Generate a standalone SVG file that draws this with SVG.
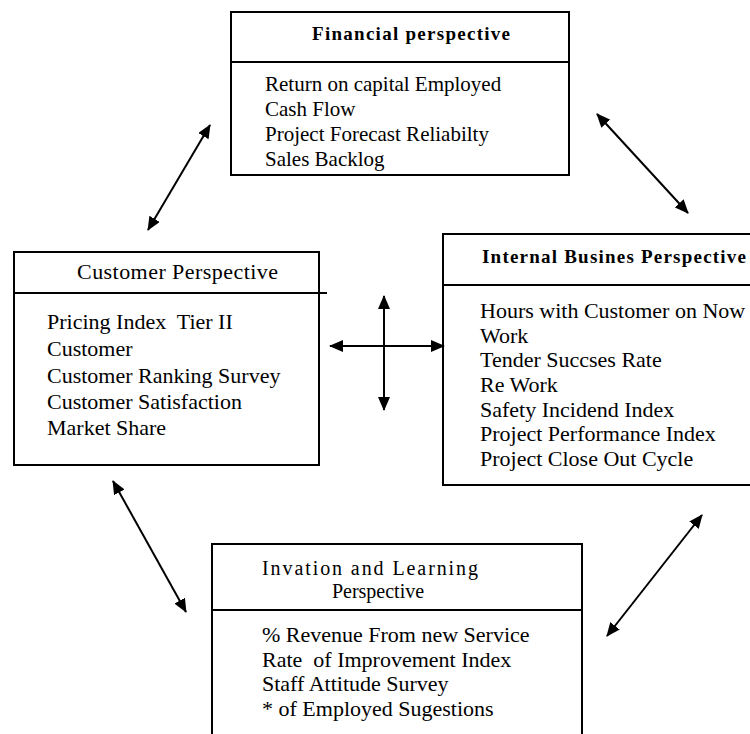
<svg xmlns="http://www.w3.org/2000/svg" width="750" height="734" viewBox="0 0 750 734">
<defs>
<style>
.box{fill:none;stroke:#000;stroke-width:2}
.div{stroke:#000;stroke-width:2}
.t{font-family:"Liberation Serif","Times New Roman",serif;fill:#000;white-space:pre}
.h{font-size:20px}
.hb{font-size:19px;font-weight:bold}
.b{font-size:21px}
.b2{font-size:22px}
.c{fill:none;stroke:#000;stroke-width:2}
</style>
<marker id="ah" viewBox="0 0 14 12" refX="13" refY="6" markerWidth="14" markerHeight="12" markerUnits="userSpaceOnUse" orient="auto-start-reverse">
<path d="M0,0 L14,6 L0,12 z" fill="#000"/>
</marker>
</defs>
<rect width="750" height="734" fill="#fff"/>
<g id="financial">
<rect class="box" x="231" y="12" width="338" height="163"/>
<line class="div" x1="231" y1="62" x2="569" y2="62"/>
<text class="t hb" x="312" y="40" textLength="198" lengthAdjust="spacing">Financial perspective</text>
<text class="t b" x="265" y="91">Return on capital Employed</text>
<text class="t b" x="265" y="116">Cash Flow</text>
<text class="t b" x="265" y="141">Project Forecast Reliabilty</text>
<text class="t b" x="265" y="166">Sales Backlog</text>
</g>
<g id="customer">
<rect class="box" x="14" y="252" width="305" height="213"/>
<line class="div" x1="14" y1="293" x2="327" y2="293"/>
<text class="t b2" x="77" y="279" textLength="201" lengthAdjust="spacing">Customer Perspective</text>
<text class="t b2" x="47" y="329" xml:space="preserve">Pricing Index  Tier II</text>
<text class="t b2" x="47" y="356">Customer</text>
<text class="t b2" x="47" y="383">Customer Ranking Survey</text>
<text class="t b2" x="47" y="409">Customer Satisfaction</text>
<text class="t b2" x="47" y="435">Market Share</text>
</g>
<g id="internal">
<rect class="box" x="443" y="234" width="320" height="251"/>
<line class="div" x1="443" y1="285" x2="763" y2="285"/>
<text class="t hb" x="482" y="263" textLength="264" lengthAdjust="spacing">Internal Busines Perspective</text>
<text class="t b2" x="480" y="318">Hours with Customer on Now</text>
<text class="t b2" x="480" y="343">Work</text>
<text class="t b2" x="480" y="367">Tender Succses Rate</text>
<text class="t b2" x="480" y="392">Re Work</text>
<text class="t b2" x="480" y="417">Safety Incidend Index</text>
<text class="t b2" x="480" y="441">Project Performance Index</text>
<text class="t b2" x="480" y="466">Project Close Out Cycle</text>
</g>
<g id="innovation">
<rect class="box" x="212" y="544" width="370" height="200"/>
<line class="div" x1="212" y1="610" x2="582" y2="610"/>
<text class="t h" x="262" y="575" textLength="216" lengthAdjust="spacing">Invation and Learning</text>
<text class="t h" x="378" y="598" text-anchor="middle">Perspective</text>
<text class="t b2" x="262" y="642">% Revenue From new Service</text>
<text class="t b2" x="262" y="667" xml:space="preserve">Rate  of Improvement Index</text>
<text class="t b2" x="262" y="691">Staff Attitude Survey</text>
<text class="t b2" x="262" y="716">* of Employed Sugestions</text>
</g>
<g id="connectors">
<line class="c" x1="210" y1="125" x2="148" y2="230" marker-start="url(#ah)" marker-end="url(#ah)"/>
<line class="c" x1="597" y1="114" x2="688" y2="213" marker-start="url(#ah)" marker-end="url(#ah)"/>
<line class="c" x1="113" y1="481" x2="186" y2="612" marker-start="url(#ah)" marker-end="url(#ah)"/>
<line class="c" x1="702" y1="515" x2="607" y2="636" marker-start="url(#ah)" marker-end="url(#ah)"/>
<line class="c" x1="330" y1="346" x2="444" y2="346" marker-start="url(#ah)" marker-end="url(#ah)"/>
<line class="c" x1="384" y1="296" x2="384" y2="410" marker-start="url(#ah)" marker-end="url(#ah)"/>
</g>
</svg>
